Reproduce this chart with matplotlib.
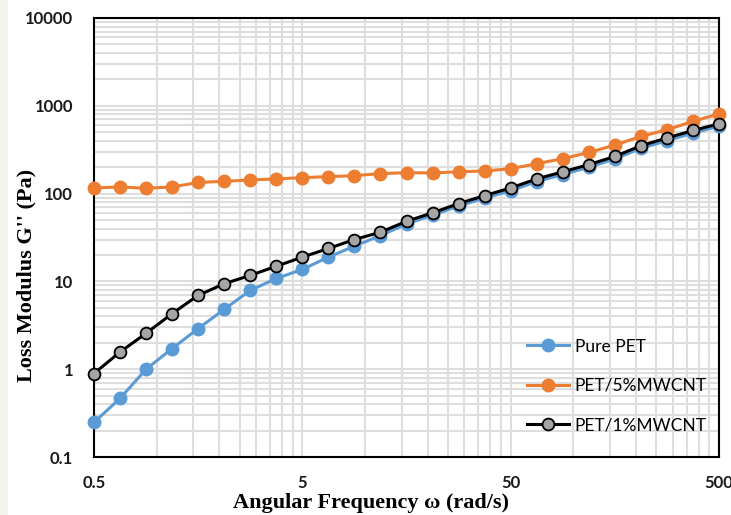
import numpy as np
import matplotlib
matplotlib.use("Agg")
import matplotlib.pyplot as plt
from matplotlib.ticker import FixedLocator, NullFormatter, LogLocator
from matplotlib.patches import Rectangle

# Data: 25 log-spaced angular frequencies (0.5 to 500 rad/s, 8 per decade)
omega = [0.5 * 10 ** (k / 8) for k in range(25)]

pure_pet = [0.248, 0.465, 1.0, 1.72, 2.90, 4.81, 7.9, 10.8, 13.7, 18.9, 25.2, 33.3,
            45, 57, 72, 89, 108, 137, 165, 200, 248, 328, 400, 490, 585]
pet_5 = [116, 119, 115, 119, 134, 138, 143, 147, 152, 156, 160, 169,
         173, 172, 177, 181, 192, 219, 250, 294, 357, 448, 534, 664, 811]
pet_1 = [0.893, 1.57, 2.56, 4.30, 6.93, 9.41, 11.7, 14.9, 18.9, 23.7, 30.0, 36.3,
         48.4, 60.4, 76.9, 94.9, 116, 147, 177, 214, 265, 351, 430, 524, 624]

x_ticks = [0.5, 5, 50, 500]
x_tick_labels = ["0.5", "5", "50", "500"]
y_ticks = [0.1, 1, 10, 100, 1000, 10000]
y_tick_labels = ["0.1", "1", "10", "100", "1000", "10000"]

W, H = 731, 515
fig = plt.figure(figsize=(W / 100, H / 100), dpi=100)
fig.patches.append(Rectangle((0, 0), 8 / W, 1, transform=fig.transFigure,
                             facecolor="#f4f6ec", edgecolor="none", zorder=0))
ax = fig.add_axes([94 / W, (H - 457) / H, (719 - 94) / W, (457 - 18) / H])

ax.set_xscale("log")
ax.set_yscale("log")
ax.set_xlim(0.5, 500)
ax.set_ylim(0.1, 10000)

# gridlines: Excel-style log axis based at 0.5 for x
x_minor = [0.5 * m * 10 ** d for d in range(3) for m in range(2, 10)]
ax.xaxis.set_major_locator(FixedLocator(x_ticks))
ax.xaxis.set_minor_locator(FixedLocator(x_minor))
ax.xaxis.set_minor_formatter(NullFormatter())
ax.set_xticks(x_ticks)
ax.set_xticklabels(x_tick_labels)
ax.yaxis.set_major_locator(FixedLocator(y_ticks))
ax.yaxis.set_minor_locator(LogLocator(base=10, subs=np.arange(2, 10), numticks=20))
ax.yaxis.set_minor_formatter(NullFormatter())
ax.set_yticks(y_ticks)
ax.set_yticklabels(y_tick_labels)

gc = "#dedede"
ax.grid(True, which="both", color=gc, linewidth=1.5, zorder=0)
ax.set_axisbelow(True)
ax.tick_params(which="both", length=0)
ax.tick_params(axis="x", pad=13)
ax.tick_params(axis="y", pad=15)
for lab in ax.get_xticklabels() + ax.get_yticklabels():
    lab.set_fontfamily("Lato")
    lab.set_fontweight("bold")
    lab.set_fontsize(12)
    lab.set_color("#1a1a1a")

for s in ax.spines.values():
    s.set_color("black")
    s.set_linewidth(1.5)

ax.plot(omega, pure_pet, color="#5b9bd5", linewidth=2.2, marker="o", markersize=9,
        markerfacecolor="#5b9bd5", markeredgecolor="#5b9bd5", label="Pure PET",
        zorder=3, clip_on=False)
ax.plot(omega, pet_5, color="#ed7d31", linewidth=2.2, marker="o", markersize=9,
        markerfacecolor="#ed7d31", markeredgecolor="#ed7d31", label="PET/5%MWCNT",
        zorder=4, clip_on=False)
ax.plot(omega, pet_1, color="black", linewidth=2.2, marker="o", markersize=8.5,
        markerfacecolor="#a5a5a5", markeredgecolor="black", markeredgewidth=1.3,
        label="PET/1%MWCNT", zorder=5, clip_on=False)

ax.set_xlabel("Angular Frequency ω (rad/s)", fontfamily="Liberation Serif",
              fontweight="bold", fontsize=16)
ax.xaxis.set_label_coords((371 - 94) / 625, (457 - 493) / 439)
ax.set_ylabel("Loss Modulus G'' (Pa)", fontfamily="Liberation Serif",
              fontweight="bold", fontsize=16)
ax.yaxis.set_label_coords((36 - 94) / 625, (457 - 275) / 439)

leg = ax.legend(loc="lower right", bbox_to_anchor=(0.997, 0.03), frameon=False,
                prop={"family": "Lato", "size": 12.5}, labelspacing=1.35,
                handlelength=2.45, handletextpad=0.3, borderaxespad=0.2)

fig.savefig("out.png", dpi=100)
